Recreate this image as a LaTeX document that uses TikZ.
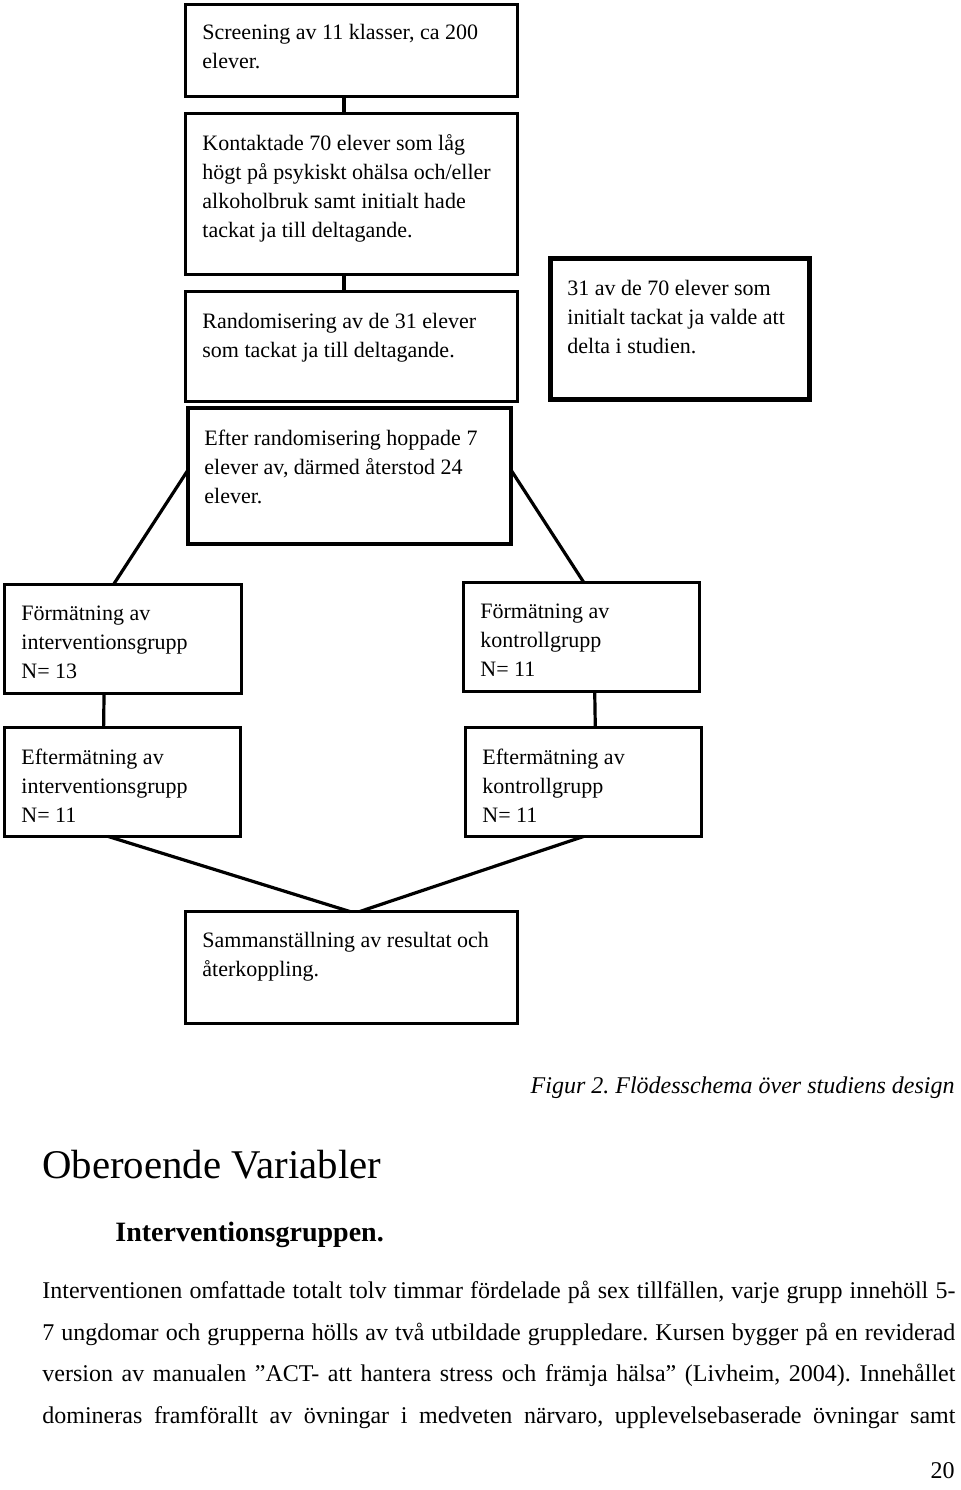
\documentclass[tikz,border=0pt]{standalone}
\usepackage{fontspec}
\setmainfont{Liberation Serif}
\usetikzlibrary{calc}
\frenchspacing
\newcommand{\firstline}{\rule{0pt}{9pt}}
\tikzset{
  box/.style={draw=black, line width=1.5pt, rectangle, inner sep=0pt, outer sep=0pt},
  heavy/.style={box, line width=2.4pt},
  boxtext/.style={anchor=north west, align=left, inner sep=0pt, font=\fontsize{11pt}{14.5pt}\selectfont},
  link/.style={draw=black, line width=1.6pt},
  bodyline/.style={anchor=base west, inner sep=0pt, font=\fontsize{12pt}{14pt}\selectfont}
}
\begin{document}
\begin{tikzpicture}[x=0.5pt,y=-0.5pt]
\useasboundingbox (0,0) rectangle (960,1490);
% boxes
\node[box, minimum width=166pt, minimum height=46pt] (b1) at (351.5,50.5) {};
\node[box, minimum width=166pt, minimum height=80.5pt] (b2) at (351.5,194) {};
\node[box, minimum width=166pt, minimum height=55pt] (b3) at (351.5,346.5) {};
\node[heavy, minimum width=129.5pt, minimum height=70.5pt] (br) at (680,329) {};
\node[heavy, minimum width=161.5pt, minimum height=68pt] (be) at (349.5,476) {};
\node[box, minimum width=118.5pt, minimum height=54.5pt] (fi) at (123,639) {};
\node[box, minimum width=118pt, minimum height=54.5pt] (fk) at (581.5,637) {};
\node[box, minimum width=118pt, minimum height=54.5pt] (ei) at (122.5,782) {};
\node[box, minimum width=118pt, minimum height=54.5pt] (ek) at (583.5,782) {};
\node[box, line width=1.8pt, minimum width=166pt, minimum height=56pt] (sam) at (351.5,967.5) {};
% texts (top = first baseline - 18px)
\node[boxtext] (t1) at (202,21) {\firstline Screening av 11 klasser, ca 200\\elever.};
\node[boxtext] (t2) at (202,132) {\firstline Kontaktade 70 elever som låg\\högt på psykiskt ohälsa och/eller\\alkoholbruk samt initialt hade\\tackat ja till deltagande.};
\node[boxtext] (t3) at (202,310) {\firstline Randomisering av de 31 elever\\som tackat ja till deltagande.};
\node[boxtext] (tr) at (567,277) {\firstline 31 av de 70 elever som\\initialt tackat ja valde att\\delta i studien.};
\node[boxtext] (te) at (204,427) {\firstline Efter randomisering hoppade 7\\elever av, därmed återstod 24\\elever.};
\node[boxtext] (tfi) at (21,602) {\firstline Förmätning av\\interventionsgrupp\\N= 13};
\node[boxtext] (tfk) at (480,600) {\firstline Förmätning av\\kontrollgrupp\\N= 11};
\node[boxtext] (tei) at (21,746) {\firstline Eftermätning av\\interventionsgrupp\\N= 11};
\node[boxtext] (tek) at (482,746) {\firstline Eftermätning av\\kontrollgrupp\\N= 11};
\node[boxtext] (tsam) at (202,929) {\firstline Sammanställning av resultat och\\återkoppling.};
% connectors
\draw[link] (b1.south) ++(-7.5,0) coordinate (c1a) -- (c1a |- b2.north);
\draw[link] (b2.south) ++(-7.5,0) coordinate (c2a) -- (c2a |- b3.north);
\draw[link] ($(be.west)+(0,-6)$) -- ($(fi.north west)!0.46!(fi.north east)$);
\draw[link] ($(be.east)+(0,-6)$) -- ($(fk.north west)!0.51!(fk.north east)$);
\draw[link] ($(fi.south west)!0.42!(fi.south east)$) -- ($(ei.north west)!0.42!(ei.north east)$);
\draw[link] ($(fk.south west)!0.556!(fk.south east)$) -- ($(ek.north west)!0.55!(ek.north east)$);
\draw[link] ($(ei.south west)!0.44!(ei.south east)$) -- ($(sam.north west)!0.495!(sam.north east)$);
\draw[link] ($(ek.south west)!0.5!(ek.south east)$) -- ($(sam.north west)!0.525!(sam.north east)$);
% caption and body text
\node[anchor=base east, inner sep=0pt, font=\fontsize{12pt}{14pt}\selectfont\itshape] (cap) at (955,1093) {Figur 2. Flödesschema över studiens design};
\node[anchor=base west, inner sep=0pt, font=\fontsize{20.4pt}{24pt}\selectfont] (h1) at (42,1178) {Oberoende Variabler};
\node[anchor=base west, inner sep=0pt, font=\fontsize{14pt}{16pt}\selectfont\bfseries] (h2) at (115,1241) {Interventionsgruppen.};
\node[bodyline] (p1) at (42,1298) {\makebox[456.5pt][s]{Interventionen omfattade totalt tolv timmar fördelade på sex tillfällen, varje grupp innehöll 5-}};
\node[bodyline] (p2) at (42,1340) {\makebox[456.5pt][s]{7 ungdomar och grupperna hölls av två utbildade gruppledare. Kursen bygger på en reviderad}};
\node[bodyline] (p3) at (42,1381) {\makebox[456.5pt][s]{version av manualen ”ACT- att hantera stress och främja hälsa” (Livheim, 2004). Innehållet}};
\node[bodyline] (p4) at (42,1423) {\makebox[456.5pt][s]{domineras framförallt av övningar i medveten närvaro, upplevelsebaserade övningar samt}};
\node[anchor=base east, inner sep=0pt, font=\fontsize{12pt}{14pt}\selectfont] (pg) at (955,1478) {20};
\end{tikzpicture}
\end{document}
